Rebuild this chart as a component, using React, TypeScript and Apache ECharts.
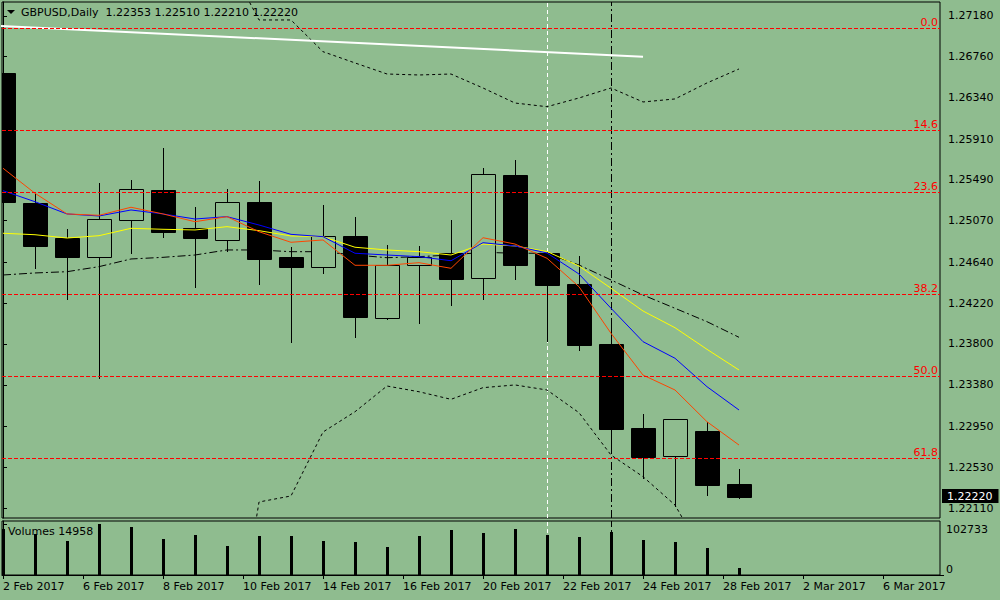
import React, { useEffect, useRef } from "react";
import * as echarts from "echarts";

const BG = "#8FBC8F";
const FONT = "DejaVu Sans";

// Daily GBPUSD bars (bar index = position in arrays)
const opens = [1.26593, 1.2525, 1.24895, 1.247, 1.25075, 1.25384, 1.24992, 1.24869, 1.25263, 1.24697, 1.2459, 1.2491, 1.24065, 1.24611, 1.24735, 1.2448, 1.25542, 1.24735, 1.24418, 1.238, 1.22934, 1.22649, 1.22903, 1.22353];
const highs = [1.26603, 1.25369, 1.24982, 1.25456, 1.2549, 1.2582, 1.25215, 1.25397, 1.2548, 1.24797, 1.25232, 1.25106, 1.2482, 1.2481, 1.25078, 1.25614, 1.25696, 1.24748, 1.24707, 1.24047, 1.23079, 1.23024, 1.22999, 1.2251];
const lows = [1.25181, 1.2458, 1.24267, 1.2345, 1.24741, 1.24906, 1.2439, 1.24758, 1.24421, 1.23824, 1.24535, 1.23875, 1.24058, 1.24013, 1.24205, 1.24267, 1.24473, 1.23834, 1.23738, 1.22759, 1.22422, 1.22134, 1.22247, 1.2221];
const closes = [1.25266, 1.24813, 1.247, 1.25085, 1.25394, 1.24957, 1.24895, 1.2526, 1.24679, 1.24597, 1.2491, 1.24081, 1.24611, 1.24693, 1.24467, 1.25549, 1.24617, 1.24413, 1.23793, 1.22927, 1.22639, 1.23024, 1.2235, 1.2222];
const volumes = [92600, 82500, 68500, 102733, 97300, 72500, 80600, 58400, 78500, 78600, 68500, 66500, 56400, 78500, 90600, 84600, 92700, 80500, 76500, 86600, 70500, 66400, 54400, 14958];

// Indicators
const maRed = [1.25611, 1.25353, 1.2514, 1.25126, 1.25209, 1.2514, 1.2506, 1.25112, 1.24957, 1.24848, 1.24872, 1.24611, 1.24611, 1.24638, 1.2458, 1.24895, 1.2483, 1.24683, 1.2439, 1.2391, 1.2348, 1.23326, 1.22999, 1.22759];
const maBlue = [1.2538, 1.25266, 1.2514, 1.25119, 1.25181, 1.2514, 1.25088, 1.25112, 1.25026, 1.2493, 1.24906, 1.24735, 1.24717, 1.247, 1.24658, 1.24844, 1.2481, 1.24738, 1.24521, 1.24168, 1.23824, 1.23653, 1.2336, 1.2312];
const maYellow = [1.24941, 1.24926, 1.24892, 1.24916, 1.24992, 1.24982, 1.24975, 1.25009, 1.24968, 1.24913, 1.24906, 1.24797, 1.24769, 1.24751, 1.24717, 1.2483, 1.2481, 1.24753, 1.24604, 1.24374, 1.2414, 1.23968, 1.23745, 1.23532];
const maDashDot = [1.24511, 1.24532, 1.24545, 1.24597, 1.24676, 1.24693, 1.24717, 1.24769, 1.24769, 1.24751, 1.24751, 1.24717, 1.24689, 1.247, 1.24717, 1.24745, 1.24735, 1.24735, 1.24614, 1.2446, 1.24305, 1.24168, 1.2403, 1.23869];
const bandStart = 7;
const bandUpper = [1.27757, 1.27139, 1.27139, 1.26812, 1.26696, 1.26582, 1.26572, 1.26582, 1.26438, 1.26283, 1.26245, 1.26335, 1.26438, 1.26294, 1.26325, 1.2649, 1.26634];
const bandLower = [1.20131, 1.22172, 1.22234, 1.22893, 1.23102, 1.23367, 1.23308, 1.2323, 1.2335, 1.23378, 1.23326, 1.23092, 1.22656, 1.22433, 1.22141, 1.21564, 1.20956];
const trendBars = [-1, 20];
const trendPrices = [1.27092, 1.26761];

// Fibonacci retracement
const fibLevels = ["0.0", "14.6", "23.6", "38.2", "50.0", "61.8"];
const fibPrices = [1.27056, 1.26005, 1.25366, 1.24315, 1.2347, 1.22625];

// Vertical lines (bar index)
const separatorBars = [17, 19];

// Axes
const priceTicks = [1.2718, 1.2676, 1.2634, 1.2591, 1.2549, 1.2507, 1.2464, 1.2422, 1.238, 1.2338, 1.2295, 1.2253, 1.2211];
const priceMin = 1.22007;
const priceMax = 1.27324;
const volumeMaxTick = 102733;
const volumeAxisMax = 108770;
const dateSlots = [0, 2.5, 5, 7.5, 10, 12.5, 15, 17.5, 20, 22.5, 25, 27.5];
const dateLabels = ["2 Feb 2017", "6 Feb 2017", "8 Feb 2017", "10 Feb 2017", "14 Feb 2017", "16 Feb 2017", "20 Feb 2017", "22 Feb 2017", "24 Feb 2017", "28 Feb 2017", "2 Mar 2017", "6 Mar 2017"];

const X_MIN = -0.03125;
const X_MAX = 29.28125;

export default function App() {
  const ref = useRef<HTMLDivElement>(null);

  useEffect(() => {
    if (!ref.current) return;
    const chart = echarts.init(ref.current, null, { renderer: "svg" });
    const last = closes.length - 1;

    const candleData = opens.map((o, i) => [i, o, highs[i], lows[i], closes[i]]);
    const volData = volumes.map((v, i) => [i, v]);
    const toPts = (arr: number[], start = 0) => arr.map((v, k) => [k + start, v]);
    const font11 = `11px "${FONT}"`;

    const lineBase = {
      type: "line",
      xAxisIndex: 0,
      yAxisIndex: 0,
      showSymbol: false,
      symbol: "none",
      silent: true,
      clip: true,
    };

    const option: any = {
      animation: false,
      backgroundColor: BG,
      textStyle: { fontFamily: FONT },
      grid: [
        { left: 2, top: 2, width: 938, height: 516, show: true, borderColor: "#000", borderWidth: 1, backgroundColor: "transparent" },
        { left: 2, top: 521, width: 938, height: 54, show: true, borderColor: "#000", borderWidth: 1, backgroundColor: "transparent" },
      ],
      xAxis: [
        {
          type: "value", gridIndex: 0, min: X_MIN, max: X_MAX,
          axisLine: { show: false }, axisTick: { show: false }, axisLabel: { show: false }, splitLine: { show: false },
        },
        {
          type: "value", gridIndex: 1, min: X_MIN, max: X_MAX,
          axisLine: { show: true, lineStyle: { color: "#000" } },
          axisTick: { show: true, customValues: dateSlots, length: 4, lineStyle: { color: "#000" } },
          axisLabel: {
            show: true, customValues: dateSlots, align: "left", margin: 6,
            color: "#000", fontFamily: FONT, fontSize: 11,
            formatter: (v: number) => {
              const k = dateSlots.indexOf(v);
              return k >= 0 ? dateLabels[k] : "";
            },
          },
          splitLine: { show: false },
        },
      ],
      yAxis: [
        {
          type: "value", gridIndex: 0, position: "right", min: priceMin, max: priceMax,
          axisLine: { show: true, lineStyle: { color: "#000" } },
          axisTick: { show: true, customValues: priceTicks, length: 4, lineStyle: { color: "#000" } },
          axisLabel: {
            show: true, customValues: priceTicks, margin: 8, color: "#000", fontFamily: FONT, fontSize: 11,
            formatter: (v: number) => v.toFixed(5),
          },
          splitLine: { show: false },
        },
        {
          type: "value", gridIndex: 1, position: "right", min: 0, max: volumeAxisMax,
          axisLine: { show: true, lineStyle: { color: "#000" } },
          axisTick: { show: true, customValues: [volumeMaxTick], length: 4, lineStyle: { color: "#000" } },
          axisLabel: {
            show: true, customValues: [volumeMaxTick], margin: 6, verticalAlign: "top",
            color: "#000", fontFamily: FONT, fontSize: 11, formatter: (v: number) => String(v),
          },
          splitLine: { show: false },
        },
        {
          type: "value", gridIndex: 1, position: "right", min: 0, max: volumeAxisMax,
          axisLine: { show: false },
          axisTick: { show: true, customValues: [0], length: 4, lineStyle: { color: "#000" } },
          axisLabel: {
            show: true, customValues: [0], margin: 6, verticalAlign: "bottom",
            color: "#000", fontFamily: FONT, fontSize: 11, formatter: (v: number) => String(v),
          },
          splitLine: { show: false },
        },
      ],
      graphic: [
        { type: "polygon", shape: { points: [[7, 10], [15, 10], [11, 14]] }, style: { fill: "#000" }, z: 20 },
        {
          type: "text", x: 21, y: 12, z: 20,
          style: {
            text: `GBPUSD,Daily  ${opens[last].toFixed(5)} ${highs[last].toFixed(5)} ${lows[last].toFixed(5)} ${closes[last].toFixed(5)}`,
            font: font11, fill: "#000", verticalAlign: "middle",
          },
        },
        {
          type: "text", x: 8, y: 531, z: 20,
          style: { text: `Volumes ${volumes[last]}`, font: font11, fill: "#000", verticalAlign: "middle" },
        },
      ],
      series: [
        {
          ...lineBase,
          name: "dashdot",
          z: 2,
          data: toPts(maDashDot),
          lineStyle: { color: "#000", width: 1, type: [8, 3, 2, 3] },
          markLine: {
            z: 1, silent: true, symbol: ["none", "none"], label: { show: false }, precision: 5,
            data: [
              { xAxis: separatorBars[0], lineStyle: { color: "#fff", width: 1, type: [4, 3] } },
              { xAxis: separatorBars[1], lineStyle: { color: "#000", width: 1, type: [8, 3, 2, 3] } },
            ],
          },
        },
        {
          type: "custom",
          name: "candles",
          xAxisIndex: 0,
          yAxisIndex: 0,
          z: 3,
          clip: true,
          silent: true,
          encode: { x: 0, y: [1, 2, 3, 4] },
          data: candleData,
          renderItem: (params: any, api: any) => {
            const i = api.value(0);
            const o = api.value(1), h = api.value(2), l = api.value(3), c = api.value(4);
            const pH = api.coord([i, h]);
            const yL = api.coord([i, l])[1];
            const yO = api.coord([i, o])[1];
            const yC = api.coord([i, c])[1];
            const half = Math.round(api.size([1, 0])[0] * 0.375);
            const x = Math.round(pH[0]) + 0.5;
            const top = Math.round(Math.min(yO, yC)) + 0.5;
            const bot = Math.round(Math.max(yO, yC)) + 0.5;
            const bull = c > o;
            return {
              type: "group",
              children: [
                { type: "line", shape: { x1: x, y1: Math.round(pH[1]), x2: x, y2: Math.round(yL) + 1 }, style: { stroke: "#000", lineWidth: 1 } },
                { type: "rect", shape: { x: x - half, y: top, width: half * 2, height: Math.max(bot - top, 1) }, style: { fill: bull ? BG : "#000", stroke: "#000", lineWidth: 1 } },
              ],
            };
          },
        },
        {
          ...lineBase, name: "upper", z: 4, data: toPts(bandUpper, bandStart),
          lineStyle: { color: "#000", width: 1, type: [3, 3] },
        },
        {
          ...lineBase, name: "lower", z: 4, data: toPts(bandLower, bandStart),
          lineStyle: { color: "#000", width: 1, type: [3, 3] },
        },
        {
          ...lineBase, name: "trend", z: 4,
          data: trendBars.map((b, k) => [b, trendPrices[k]]),
          lineStyle: { color: "#fff", width: 2 },
        },
        {
          ...lineBase, name: "yellow", z: 4, data: toPts(maYellow),
          lineStyle: { color: "#FFFF00", width: 1 },
        },
        {
          ...lineBase, name: "blue", z: 4, data: toPts(maBlue),
          lineStyle: { color: "#0000FF", width: 1 },
        },
        {
          ...lineBase, name: "red", z: 4, data: toPts(maRed),
          lineStyle: { color: "#FF4500", width: 1 },
        },
        {
          // Fibonacci retracement levels
          type: "custom",
          name: "fibo",
          xAxisIndex: 0,
          yAxisIndex: 0,
          z: 6,
          silent: true,
          encode: { x: 0, y: 1 },
          data: fibPrices.map((p, k) => [0, p, k]),
          renderItem: (params: any, api: any) => {
            const p = api.value(1);
            const k = api.value(2);
            const cs = params.coordSys;
            const y = Math.round(api.coord([0, p])[1]) + 0.5;
            return {
              type: "group",
              children: [
                { type: "line", shape: { x1: cs.x, y1: y, x2: cs.x + cs.width, y2: y }, style: { stroke: "#FF0000", lineWidth: 1, lineDash: [4, 2] } },
                { type: "text", x: cs.x + cs.width - 2, y: y - 1, style: { text: fibLevels[k], fill: "#FF0000", font: font11, align: "right", verticalAlign: "bottom" } },
              ],
            };
          },
        },
        {
          // Last price marker on the price scale
          type: "custom",
          name: "lastPrice",
          xAxisIndex: 0,
          yAxisIndex: 0,
          z: 8,
          silent: true,
          encode: { x: 0, y: 1 },
          data: [[last, closes[last]]],
          renderItem: (params: any, api: any) => {
            const cs = params.coordSys;
            const y = Math.round(api.coord([api.value(0), api.value(1)])[1]) - 1;
            return {
              type: "text",
              x: cs.x + cs.width + 2,
              y,
              style: {
                text: api.value(1).toFixed(5), fill: "#fff", font: font11,
                align: "left", verticalAlign: "middle",
                backgroundColor: "#000", padding: [2, 6, 1, 5],
              },
            };
          },
        },
        {
          type: "custom",
          name: "volume",
          xAxisIndex: 1,
          yAxisIndex: 1,
          z: 3,
          clip: true,
          silent: true,
          encode: { x: 0, y: 1 },
          data: volData,
          renderItem: (params: any, api: any) => {
            const i = api.value(0);
            const v = api.value(1);
            const pTop = api.coord([i, v]);
            const pBot = api.coord([i, 0]);
            const x = Math.round(pTop[0]) - 1;
            return {
              type: "rect",
              shape: { x, y: Math.round(pTop[1]), width: 3, height: Math.round(pBot[1]) - Math.round(pTop[1]) },
              style: { fill: "#000" },
            };
          },
          markLine: {
            z: 1, silent: true, symbol: ["none", "none"], label: { show: false },
            data: [
              { xAxis: separatorBars[0], lineStyle: { color: "#fff", width: 1, type: [4, 3] } },
              { xAxis: separatorBars[1], lineStyle: { color: "#000", width: 1, type: [8, 3, 2, 3] } },
            ],
          },
        },
      ],
    };

    chart.setOption(option);
    return () => chart.dispose();
  }, []);

  return (
    <div
      ref={ref}
      style={{ position: "absolute", left: 0, top: 0, width: 1000, height: 600, background: BG }}
    />
  );
}
